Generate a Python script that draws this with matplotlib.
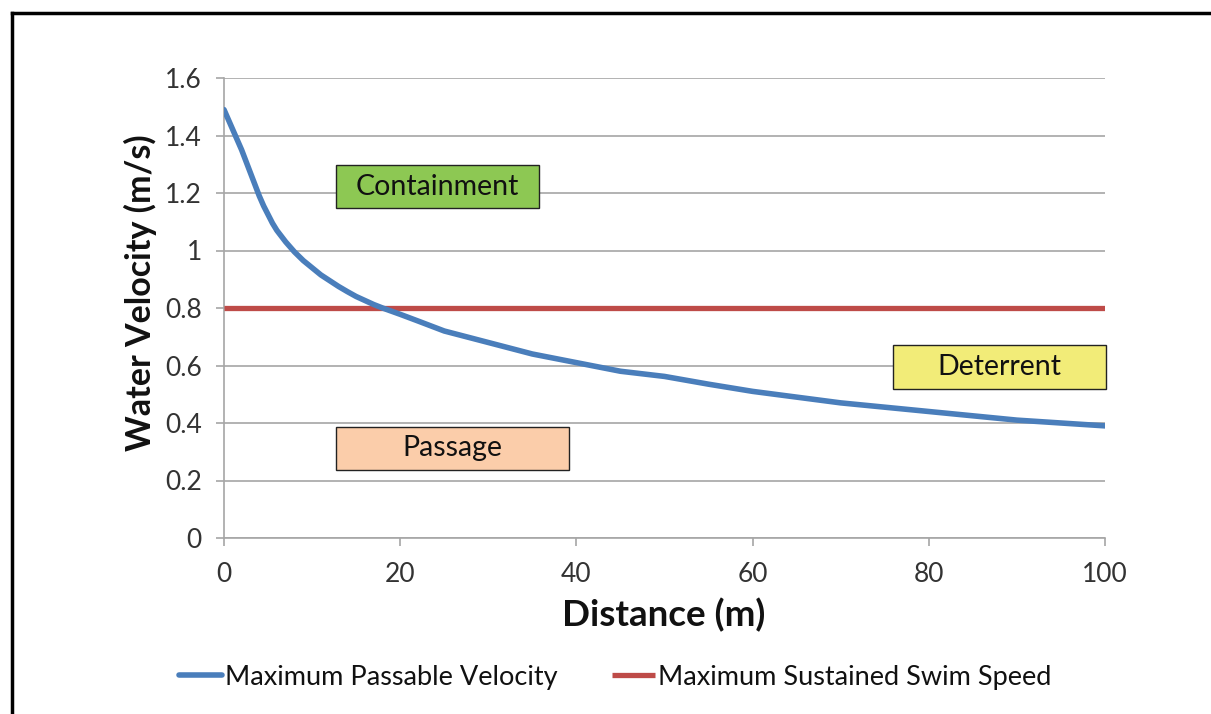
import matplotlib
matplotlib.use("Agg")
import matplotlib.pyplot as plt
from matplotlib.lines import Line2D
from matplotlib.patches import Rectangle

plt.rcParams['font.family'] = ['Lato', 'DejaVu Sans']

distance = [0, 0.5, 1, 1.5, 2, 2.5, 3, 3.5, 4, 4.5, 5, 5.5, 6, 7, 8, 9, 10, 11, 12,
            13, 14, 15, 16, 17, 18, 20, 22, 25, 30, 35, 40, 45, 50,
            55, 60, 65, 70, 75, 80, 85, 90, 95, 100]
passable = [1.49, 1.455, 1.42, 1.385, 1.35, 1.31, 1.27, 1.23, 1.19, 1.155, 1.125,
            1.095, 1.07, 1.03, 0.995, 0.965, 0.94, 0.915, 0.895, 0.875, 0.857, 0.84,
            0.826, 0.812, 0.80, 0.778, 0.755, 0.72, 0.68, 0.64, 0.61, 0.58, 0.562,
            0.535, 0.51, 0.49, 0.47, 0.455, 0.44, 0.425, 0.41, 0.40, 0.39]
sustained_x = [0, 100]
sustained = [0.8, 0.8]

zones = ["Containment", "Passage", "Deterrent"]
zone_x = [(12.7, 35.8), (12.7, 39.2), (75.9, 100.1)]
zone_y = [(1.148, 1.297), (0.237, 0.386), (0.518, 0.671)]
zone_colors = ["#8DC853", "#FBCDAA", "#F2EC78"]

xticks = [0, 20, 40, 60, 80, 100]
yticks = [0, 0.2, 0.4, 0.6, 0.8, 1.0, 1.2, 1.4, 1.6]
ytick_labels = ["0", "0.2", "0.4", "0.6", "0.8", "1", "1.2", "1.4", "1.6"]

W, H = 1211, 714
fig = plt.figure(figsize=(W / 100, H / 100), dpi=100)
ax = fig.add_axes([224 / W, (H - 538) / H, (1105 - 224) / W, (538 - 78) / H])

ax.plot(distance, passable, color="#4A7EBB", lw=4.0, solid_capstyle="round",
        solid_joinstyle="round", label="Maximum Passable Velocity", zorder=4)
ax.plot(sustained_x, sustained, color="#BE4B48", lw=3.8, solid_capstyle="butt",
        label="Maximum Sustained Swim Speed", zorder=3)

for name, (x0, x1), (y0, y1), c in zip(zones, zone_x, zone_y, zone_colors):
    ax.add_patch(Rectangle((x0, y0), x1 - x0, y1 - y0, facecolor=c,
                           edgecolor="#222222", lw=1.0, zorder=5, clip_on=False))
    ax.text((x0 + x1) / 2, (y0 + y1) / 2, name, ha="center", va="center",
            fontsize=20.5, color="#111111", zorder=6)

ax.set_xlim(0, 100)
ax.set_ylim(0, 1.6)
ax.set_xticks(xticks)
ax.set_yticks(yticks)
ax.set_yticklabels(ytick_labels)
ax.grid(axis="y", color="#A6A6A6", lw=1.2)
ax.set_axisbelow(True)
for s in ["top", "right"]:
    ax.spines[s].set_visible(False)
for s in ["left", "bottom"]:
    ax.spines[s].set_color("#A6A6A6")
    ax.spines[s].set_linewidth(1.2)
ax.tick_params(axis="both", colors="#A6A6A6", labelcolor="#333333",
               labelsize=19, length=6, width=1.2)
ax.tick_params(axis="x", pad=11)
ax.tick_params(axis="y", pad=10)

fig.text(664 / W, 1 - 615 / H, "Distance (m)", ha="center", va="center",
         fontsize=26.5, fontweight="bold", color="#111111")
fig.text(140 / W, 1 - 293 / H, "Water Velocity (m/s)", ha="center", va="center",
         rotation=90, fontsize=24.5, fontweight="bold", color="#111111")

leg = fig.legend(loc="center", bbox_to_anchor=(615 / W, 1 - 677 / H), ncol=2,
                 frameon=False, fontsize=19.5, handlelength=1.6, handletextpad=0.1,
                 columnspacing=2.0)
for t in leg.get_texts():
    t.set_color("#111111")

fig.add_artist(Line2D([12 / W, 1.0], [1 - 13 / H, 1 - 13 / H], color="black", lw=2.5,
                      transform=fig.transFigure))
fig.add_artist(Line2D([12 / W, 12 / W], [0, 1 - 13 / H], color="black", lw=2.5,
                      transform=fig.transFigure))

fig.savefig("out.png", dpi=100, facecolor="white")
